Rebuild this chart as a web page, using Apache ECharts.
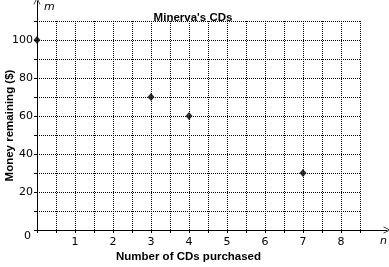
<!DOCTYPE html>
<html><head><meta charset="utf-8">
<script src="https://cdn.jsdelivr.net/npm/echarts@6/dist/echarts.min.js"></script>
<style>html,body{margin:0;padding:0;background:#fff}#c{width:389px;height:267px}</style>
</head><body><div id="c"></div>
<script>
var cdsPurchased = [0, 3, 4, 7];
var moneyRemaining = [100, 70, 60, 30];
var xTickLabels = ['1','2','3','4','5','6','7','8'];
var yTickLabels = ['20','40','60','80','100'];
var titleText = "Minerva's CDs";
var xName = 'Number of CDs purchased';
var yName = 'Money remaining ($)';

var FONT = 'DejaVu Sans';
var BFONT = 'Liberation Sans';
var arrow = 'path://M0,10 L5,0 L10,10 L9,10 L5,2 L1,10 Z';
var chart = echarts.init(document.getElementById('c'), null, {renderer: 'canvas'});
chart.setOption({
  animation: false,
  backgroundColor: '#fff',
  title: {text: titleText, left: 188, top: 7, textAlign: 'center',
    textStyle: {fontFamily: BFONT, fontSize: 11.5, fontWeight: 'bold', color: '#000'}},
  grid: [
    {left: 37, right: 29, top: 21, bottom: 37, containLabel: false, outerBoundsMode: 'none'},
    {left: 37, right: 2, top: 1, bottom: 37, containLabel: false, outerBoundsMode: 'none'}
  ],
  xAxis: [
    {type: 'value', gridIndex: 0, min: 0, max: 8.5, interval: 0.5,
      name: xName, nameLocation: 'middle', nameGap: 21, nameMoveOverlap: false,
      nameTextStyle: {fontFamily: BFONT, fontSize: 11.5, fontWeight: 'bold', color: '#000',
        padding: [0, 20, 0, 0]},
      axisLine: {show: false},
      axisTick: {show: true, length: 3, lineStyle: {color: '#000'}},
      splitLine: {show: true, lineStyle: {color: '#000', type: 'dotted', width: 1}},
      axisLabel: {margin: 7, fontFamily: FONT, fontSize: 11, color: '#000',
        formatter: function (v) { var s = String(v); return xTickLabels.indexOf(s) >= 0 ? s : ''; }}},
    {type: 'value', gridIndex: 1, min: 0, max: 1,
      axisLine: {show: true, onZero: false, symbol: ['none', arrow], symbolSize: [8, 7],
        lineStyle: {color: '#000', width: 1}},
      axisTick: {show: false}, splitLine: {show: false}, axisLabel: {show: false}}
  ],
  yAxis: [
    {type: 'value', gridIndex: 0, min: 0, max: 110, interval: 10,
      name: yName, nameLocation: 'middle', nameGap: 21, nameMoveOverlap: false,
      nameTextStyle: {fontFamily: BFONT, fontSize: 11.5, fontWeight: 'bold', color: '#000'},
      axisLine: {show: false},
      axisTick: {show: true, length: 3, lineStyle: {color: '#000'}},
      splitLine: {show: true, lineStyle: {color: '#000', type: 'dotted', width: 1}},
      axisLabel: {margin: 4, fontFamily: FONT, fontSize: 11, color: '#000',
        formatter: function (v) { var s = String(v); return yTickLabels.indexOf(s) >= 0 ? s : ''; }}},
    {type: 'value', gridIndex: 1, min: 0, max: 1,
      axisLine: {show: true, onZero: false, symbol: ['none', arrow], symbolSize: [8, 7],
        lineStyle: {color: '#000', width: 1}},
      axisTick: {show: false}, splitLine: {show: false}, axisLabel: {show: false}}
  ],
  graphic: [
    {type: 'text', left: 24, top: 231, style: {text: '0', font: '11px "DejaVu Sans"', fill: '#000'}},
    {type: 'text', left: 44, top: 2, style: {text: 'm', font: 'italic 11px "DejaVu Sans"', fill: '#000'}},
    {type: 'text', left: 380, top: 236, style: {text: 'n', font: 'italic 11px "DejaVu Sans"', fill: '#000'}}
  ],
  series: [{
    type: 'scatter', xAxisIndex: 0, yAxisIndex: 0,
    data: cdsPurchased.map(function (x, i) { return [x, moneyRemaining[i]]; }),
    symbol: 'diamond', symbolSize: [7, 8],
    itemStyle: {color: '#000'}
  }]
});
</script></body></html>
